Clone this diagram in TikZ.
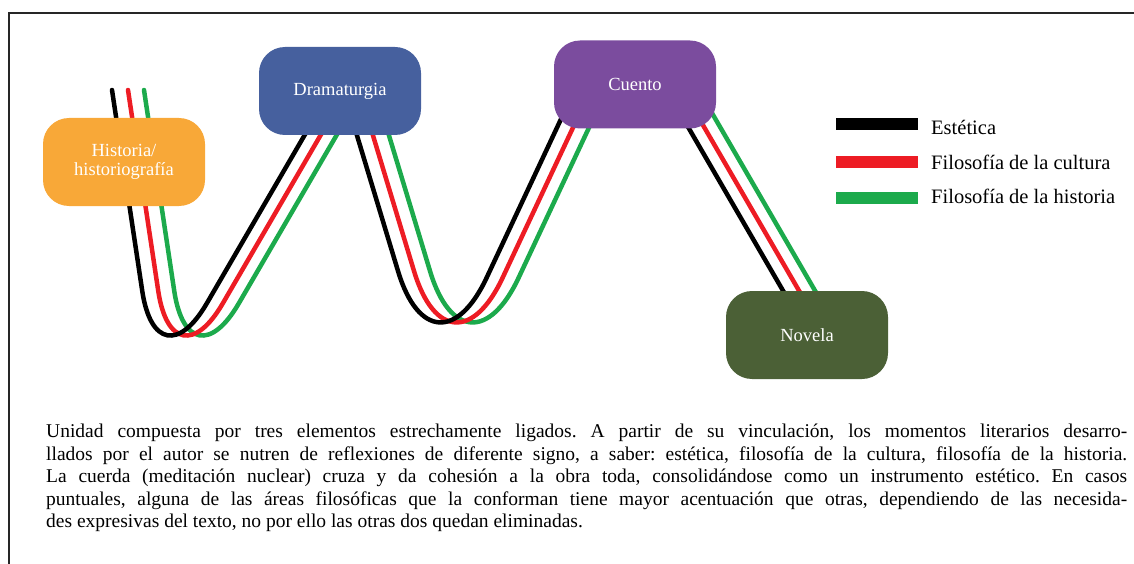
\documentclass[tikz,border=0pt]{standalone}
\usepackage{fontspec}
\setmainfont{Liberation Serif}
\usepackage{tikz}

\definecolor{histcol}{RGB}{248,168,56}
\definecolor{dramcol}{RGB}{70,96,158}
\definecolor{cuencol}{RGB}{123,76,158}
\definecolor{novcol}{RGB}{75,96,54}
\definecolor{strandred}{RGB}{237,28,36}
\definecolor{strandgreen}{RGB}{28,170,76}

\begin{document}
\begin{tikzpicture}[
  x=1pt, y=-1pt,
  every node/.style={inner sep=0pt},
  area/.style={rounded corners=26pt, minimum width=162pt, minimum height=88pt,
    text=white, align=center, font=\fontsize{18.5}{19.5}\selectfont},
  strand/.style={line width=4.5pt, line cap=round},
  swatch/.style={line width=12pt},
  legend/.style={anchor=west, font=\fontsize{20.5}{22}\selectfont}
]
\useasboundingbox (0,0) rectangle (1134,564);
\draw[line width=1.3pt, black!85] (9,13) rectangle (1160,590);

\foreach \col/\dx in {strandgreen/32, strandred/16, black/0}
  \draw[strand, \col, xshift=\dx pt] (112,90)
    [rounded corners=99pt] -- (157,389)
    [rounded corners=20pt] -- (339,76)
    [rounded corners=124pt] -- (434,390)
    [rounded corners=10pt] -- (584,70) -- (655,70) -- (800,320);

\node[area, fill=histcol] (hist) at (124,162) {Historia/\\historiografía};
\node[area, fill=dramcol] (dram) at (340,91) {Dramaturgia};
\node[area, fill=cuencol] (cuen) at (635,84.5) {Cuento};
\node[area, fill=novcol] (nov) at (807,335) {Novela};

\draw[swatch, black] (836,124) -- (918,124);
\draw[swatch, strandred] (836,162) -- (918,162);
\draw[swatch, strandgreen] (836,198) -- (918,198);
\node[legend] (est) at (931,127) {Estética};
\node[legend] (fcul) at (931,162) {Filosofía de la cultura};
\node[legend] (fhis) at (931,196) {Filosofía de la historia};

\node[anchor=north west, align=left, font=\fontsize{19.5}{22.5}\selectfont\frenchspacing] (note) at (46,424)
  {\makebox[1081pt][s]{Unidad compuesta por tres elementos estrechamente ligados. A partir de su vinculación, los momentos literarios desarro-}\\
   \makebox[1081pt][s]{llados por el autor se nutren de reflexiones de diferente signo, a saber: estética, filosofía de la cultura, filosofía de la historia.}\\
   \makebox[1081pt][s]{La cuerda (meditación nuclear) cruza y da cohesión a la obra toda, consolidándose como un instrumento estético. En casos}\\
   \makebox[1081pt][s]{puntuales, alguna de las áreas filosóficas que la conforman tiene mayor acentuación que otras, dependiendo de las necesida-}\\
   des expresivas del texto, no por ello las otras dos quedan eliminadas.};
\end{tikzpicture}
\end{document}
